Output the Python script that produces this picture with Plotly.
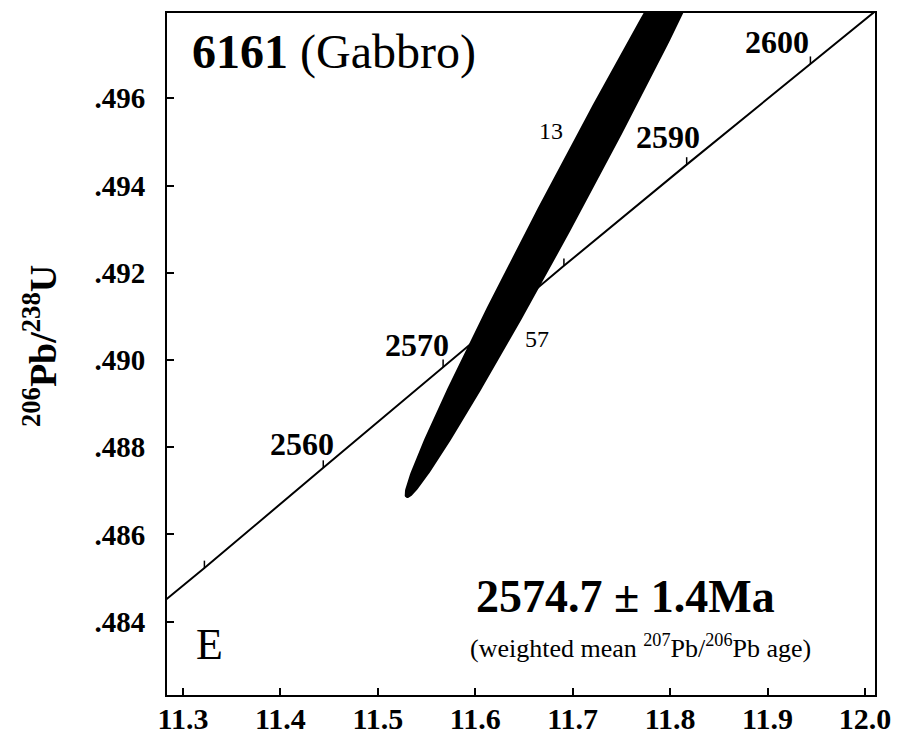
import numpy as np
import plotly.graph_objects as go

# Concordia curve (207Pb/235U, 206Pb/238U) with age marks in Ma
curve_x = [11.270, 11.322, 11.444, 11.567, 11.691, 11.817, 11.944, 12.030]
curve_y = [0.48428, 0.48523, 0.48753, 0.48984, 0.49216, 0.49448, 0.49679, 0.49835]

mark_age = [2550, 2560, 2570, 2580, 2590, 2600]
mark_x = [11.322, 11.444, 11.567, 11.691, 11.817, 11.944]
mark_y = [0.48523, 0.48753, 0.48984, 0.49216, 0.49448, 0.49679]
labelled_ages = [2560, 2570, 2590, 2600]

# Zircon analysis error ellipse (centre, half-extents, correlation)
ell_x0 = 11.708
ell_y0 = 0.49436
ell_sx = 0.179
ell_sy = 0.00749
ell_rho = 0.9928

# Axis ticks
x_ticks = [11.3, 11.4, 11.5, 11.6, 11.7, 11.8, 11.9, 12.0]
y_ticks = [0.484, 0.486, 0.488, 0.490, 0.492, 0.494, 0.496]
y_ticktext = [".484", ".486", ".488", ".490", ".492", ".494", ".496"]

SERIF = "Liberation Serif, Times New Roman, serif"
W, H = 900, 737
ML, MR, MT, MB = 167, 25, 13, 42
PW, PH = W - ML - MR, H - MT - MB


def px(x):
    return (x - ML) / PW


def py(y):
    return 1 - (y - MT) / PH


fig = go.Figure()

# error ellipse
t = np.linspace(0, 2 * np.pi, 400)
ex = ell_x0 + ell_sx * np.cos(t)
ey = ell_y0 + ell_sy * (ell_rho * np.cos(t) + np.sqrt(1 - ell_rho ** 2) * np.sin(t))
fig.add_trace(go.Scatter(x=ex, y=ey, mode="lines", fill="toself",
                         fillcolor="black", line=dict(color="black", width=3),
                         hoverinfo="skip", showlegend=False))

# concordia
fig.add_trace(go.Scatter(x=curve_x, y=curve_y, mode="lines",
                         line=dict(color="black", width=2),
                         hoverinfo="skip", showlegend=False))

# short age marks on the concordia
tick_len = 0.00017
tx, ty = [], []
for xv, yv in zip(mark_x, mark_y):
    tx += [xv, xv, None]
    ty += [yv, yv + tick_len, None]
fig.add_trace(go.Scatter(x=tx, y=ty, mode="lines",
                         line=dict(color="black", width=1.5),
                         hoverinfo="skip", showlegend=False))

# age labels (pixel offsets from each mark)
label_shift = {2560: (-21, 24), 2570: (-26, 22), 2590: (-19, 28), 2600: (-33, 22)}
for age, xv, yv in zip(mark_age, mark_x, mark_y):
    if age in labelled_ages:
        dx, dy = label_shift[age]
        fig.add_annotation(x=xv, y=yv, text=f"<b>{age}</b>", showarrow=False,
                           xanchor="center", yanchor="middle",
                           xshift=dx, yshift=dy,
                           font=dict(family=SERIF, size=32, color="black"))


def note(x, y, text, size, xanchor="center", angle=0):
    fig.add_annotation(x=px(x), y=py(y), xref="paper", yref="paper",
                       xanchor=xanchor, yanchor="middle", showarrow=False,
                       text=text, textangle=angle,
                       font=dict(family=SERIF, size=size, color="black"))


# analysis fraction labels
note(551, 131, "13", 24)
note(537, 339, "57", 24)

# sample title
note(190, 52, "<b>6161</b> (Gabbro)", 48, xanchor="left")

# panel letter
note(194, 644, "E", 44, xanchor="left")

# age result
note(625, 596, "<b>2574.7 ± 1.4Ma</b>", 46)
note(640, 646, "(weighted mean <sup>207</sup>Pb/<sup>206</sup>Pb age)", 26)

# y-axis title
note(40, 346, "<b><sup>206</sup>Pb/<sup>238</sup>U</b>", 38, angle=-90)

axis_common = dict(showgrid=False, zeroline=False, showline=True, linecolor="black",
                   linewidth=2, mirror=True, ticks="inside", ticklen=7, tickwidth=1.5,
                   tickcolor="black", automargin=False)

fig.update_xaxes(range=[11.2836, 12.0103], tickvals=x_ticks, tickformat=".1f",
                 ticklabelstandoff=-4,
                 tickfont=dict(family=SERIF, size=30, color="black", weight="bold"),
                 **axis_common)
fig.update_yaxes(range=[0.48232, 0.497956], tickvals=y_ticks, ticktext=y_ticktext,
                 ticklabelstandoff=14,
                 tickfont=dict(family=SERIF, size=29, color="black", weight="bold"),
                 **axis_common)

fig.update_layout(width=W, height=H, margin=dict(l=ML, r=MR, t=MT, b=MB),
                  plot_bgcolor="white", paper_bgcolor="white", showlegend=False,
                  font=dict(family=SERIF, color="black"))

fig.write_html("out.html")
